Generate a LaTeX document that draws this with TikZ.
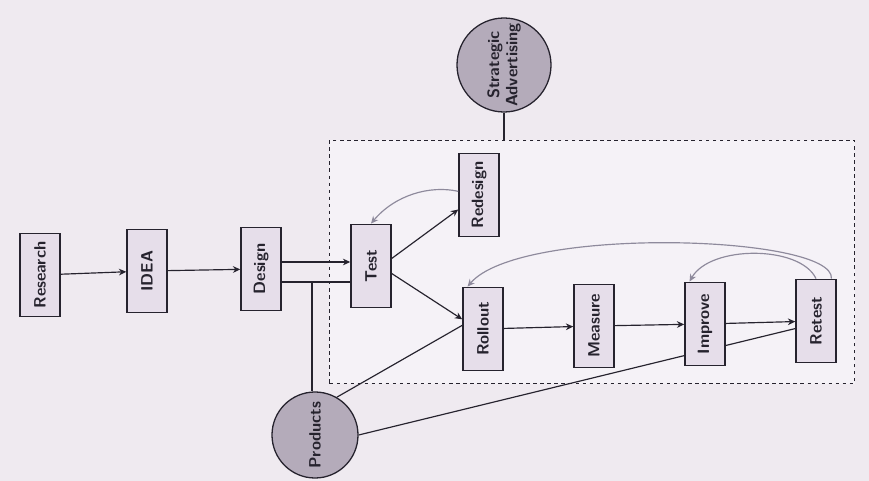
\documentclass[tikz,border=0pt]{standalone}
\usepackage{xcolor}
\usepackage{tikz}
\usetikzlibrary{positioning,arrows.meta,calc}
\definecolor{PaperTone}{HTML}{EFEAF0}
\definecolor{BoxFill}{HTML}{E6DEEA}
\definecolor{DiscFill}{HTML}{B4ABBA}
\definecolor{InkDark}{HTML}{26232E}
\definecolor{InkGray}{HTML}{8E8A9C}

\begin{document}
\begin{tikzpicture}[x=0.03cm, y=-0.03cm,
      stage/.style={rectangle, draw=InkDark, fill=BoxFill, line width=1.3pt,
                 text=InkDark, font=\sffamily\bfseries\fontsize{14}{16}\selectfont,
                 inner sep=0pt, minimum width=1.2cm, minimum height=2.5cm},
      disc/.style={circle, draw=InkDark, fill=DiscFill, line width=1.1pt,
                 text=InkDark, font=\sffamily\bfseries\fontsize{14}{14}\selectfont,
                 inner sep=0pt},
      ar/.style={-{Stealth[length=2.2mm,width=2mm]}, InkDark, line width=1pt},
      ln/.style={InkDark, line width=1pt},
      bk/.style={-{Stealth[length=2.2mm,width=2mm]}, InkGray, line width=1pt},
    ]
      \fill[PaperTone] (0,0) rectangle (869,481);
      \useasboundingbox (0,0) rectangle (869,481);
      % test zone
      \node[draw=InkDark, dashed, line width=1.1pt, fill=BoxFill!40,
            minimum width=15.75cm, minimum height=7.3cm] (zone) at (592,262) {};
      % side inputs
      \node[disc, minimum size=2.82cm] (strat) at (504,65)
            {\rotatebox{90}{\shortstack{Strategic\\Advertising}}};
      \node[disc, minimum size=2.58cm] (prod) at (315,435)
            {\rotatebox{90}{Products}};
      % retest first, so the product line runs behind improve
      \node[stage] (ret)  at (816,321) {\rotatebox{90}{Retest}};
      \draw[ln] (prod.east) -- (ret.-160);
      % stages
      \node[stage] (res)  at (40,275)  {\rotatebox{90}{Research}};
      \node[stage] (idea) at (147,271) {\rotatebox{90}{IDEA}};
      \node[stage] (des)  at (261,269) {\rotatebox{90}{Design}};
      \node[stage] (test) at (371,266) {\rotatebox{90}{Test}};
      \node[stage] (rede) at (479,195) {\rotatebox{90}{Redesign}};
      \node[stage] (roll) at (483,329) {\rotatebox{90}{Rollout}};
      \node[stage] (meas) at (594,326) {\rotatebox{90}{Measure}};
      \node[stage] (imp)  at (705,324) {\rotatebox{90}{Improve}};
      % links
      \draw[ln] (strat.south) -- (strat.south|-zone.north);
      \draw[ar] (res) -- (idea);
      \draw[ar] (idea) -- (des);
      \draw[ar] (des.east|-0,262) -- (test.west|-0,262);
      \coordinate (j) at (312,282);
      \draw[ln] (des.east|-j) -- (test.west|-j);
      \draw[ln] (prod.north-|j) -- (j);
      \draw[ar] (test.20) -- (rede.-145);
      \draw[ar] (test.-20) -- (roll.155);
      \draw[ln] (prod.60) -- (roll.170);
      \draw[ar] (roll) -- (meas);
      \draw[ar] (meas) -- (imp);
      \draw[ar] (imp) -- (ret);
      \draw[bk] (rede.170) .. controls (430,185) and (395,195) .. (test.north);
      \draw[bk] (ret.north) .. controls (800,245) and (710,245) .. (imp.110);
      \draw[bk] (ret.70) .. controls (835,235) and (520,225) .. (roll.110);
    \end{tikzpicture}
\end{document}
